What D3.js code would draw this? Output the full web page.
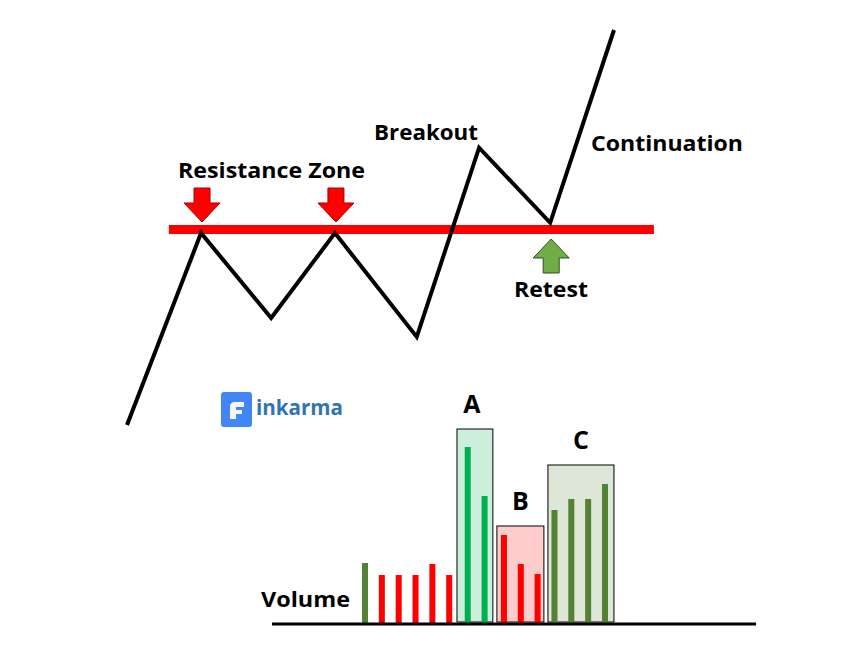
<!DOCTYPE html>
<html>
<head>
<meta charset="utf-8">
<title>Resistance breakout and retest</title>
<script src="https://cdn.jsdelivr.net/npm/d3@7/dist/d3.min.js"></script>
<style>
  body { margin: 0; background: #fff; }
  text { font-family: "Open Sans", "DejaVu Sans", sans-serif; font-weight: 700; }
</style>
</head>
<body>
<svg width="849" height="655"></svg>
<script>
// price path (time 0..100, price 0..100)
var priceTime = [0, 15.2, 29.6, 42.7, 59.5, 72.3, 86.9, 100];
var priceValue = [0, 48.6, 27.1, 48.6, 22.3, 70.2, 51.2, 100];
var resistance = 49.5;
var resistanceSpan = [8.6, 108.2];

// volume bars
var barSlot = [0, 1, 2, 3, 4, 5, 6.1, 7.1, 8.25, 9.25, 10.25, 11.25, 12.25, 13.25, 14.25];
var barVolume = [60, 48, 48, 48, 59, 48, 176, 127, 88, 59, 49, 113, 124, 124, 139];
var barKind = ["olive", "red", "red", "red", "red", "red", "green", "green", "red", "red", "red", "olive", "olive", "olive", "olive"];

// highlight boxes over the volume
var boxName = ["A", "B", "C"];
var boxFrom = [5.64, 8.01, 11.04];
var boxTo = [7.77, 10.8, 14.96];
var boxTop = [194, 97, 158];
var boxKind = ["green", "red", "olive"];

var colors = {olive: "#548235", red: "#ff0000", green: "#00b050"};

var svg = d3.select("svg");

var x = d3.scaleLinear().domain([0, 100]).range([127, 614]);
var y = d3.scaleLinear().domain([0, 100]).range([425, 30]);

// resistance line
svg.append("line")
  .attr("x1", x(resistanceSpan[0])).attr("x2", x(resistanceSpan[1]))
  .attr("y1", y(resistance)).attr("y2", y(resistance))
  .attr("stroke", "#ff0000").attr("stroke-width", 9);

// price line
var pts = d3.zip(priceTime, priceValue);
svg.append("path")
  .attr("d", d3.line().x(function(d){ return x(d[0]); }).y(function(d){ return y(d[1]); })(pts))
  .attr("fill", "none").attr("stroke", "#000").attr("stroke-width", 4)
  .attr("stroke-linejoin", "miter");

// arrows (down over the two touches, up under the retest)
function arrowPath(cx, tipY, dir) {
  // dir 1 = pointing down, -1 = pointing up
  var hw = 18, sw = 8, hh = 19, sh = 15;
  var b = tipY - dir * hh, t = b - dir * sh;
  return "M" + cx + "," + tipY + "L" + (cx - hw) + "," + b + "L" + (cx - sw) + "," + b +
    "L" + (cx - sw) + "," + t + "L" + (cx + sw) + "," + t + "L" + (cx + sw) + "," + b +
    "L" + (cx + hw) + "," + b + "Z";
}
[1, 3].forEach(function(i) {
  svg.append("path")
    .attr("d", arrowPath(x(priceTime[i]) + 1, 222, 1))
    .attr("fill", "#ff0000").attr("stroke", "#a50000").attr("stroke-width", 1);
});
svg.append("path")
  .attr("d", arrowPath(x(priceTime[6]) + 1, 239, -1))
  .attr("fill", "#70ad47").attr("stroke", "#2f4f1f").attr("stroke-width", 1);

// labels
function label(txt, px, py, w, anchor) {
  svg.append("text").attr("x", px).attr("y", py)
    .attr("text-anchor", anchor || "start")
    .attr("font-size", 21).attr("fill", "#000")
    .attr("textLength", w).attr("lengthAdjust", "spacingAndGlyphs")
    .text(txt);
}
label("Resistance Zone", 178, 178, 187);
label("Breakout", 374, 140, 104);
label("Continuation", 591, 151, 152);
label("Retest", 551, 297, 74, "middle");
label("Volume", 261, 607, 89);

// logo
var logo = svg.append("g").attr("transform", "translate(221,392)");
logo.append("rect").attr("width", 31).attr("height", 35).attr("rx", 3).attr("fill", "#4285f4");
logo.append("path")
  .attr("d", "M9,27 L9,15 Q9,10 14,10 L23,10 L23,15 L15,15 L15,18 L21,18 L21,22 L15,22 L15,27 Z")
  .attr("fill", "#f4f6fb");
svg.append("text").attr("x", 256).attr("y", 415)
  .attr("font-size", 21).attr("fill", "#2e75b6")
  .attr("textLength", 87).attr("lengthAdjust", "spacingAndGlyphs")
  .text("inkarma");

// volume
var vx = d3.scaleLinear().domain([0, 14.25]).range([365, 605]);
var vy = d3.scaleLinear().domain([0, 200]).range([623, 423]);
var barW = 6;

var boxes = svg.append("g");
boxName.forEach(function(n, i) {
  boxes.append("rect")
    .attr("x", vx(boxFrom[i]) - barW / 2).attr("y", vy(boxTop[i]))
    .attr("width", vx(boxTo[i]) - vx(boxFrom[i]))
    .attr("height", vy(0) - vy(boxTop[i]) - 1)
    .attr("fill", colors[boxKind[i]]).attr("fill-opacity", 0.2)
    .attr("stroke", "#000").attr("stroke-width", 1);
  boxes.append("text")
    .attr("x", (vx(boxFrom[i]) + vx(boxTo[i])) / 2 - barW / 2 - (i === 0 ? 3 : 0))
    .attr("y", vy(boxTop[i]) - 16)
    .attr("text-anchor", "middle").attr("font-size", 25).attr("fill", "#000")
    .text(n);
});

svg.append("g").selectAll("rect")
  .data(barSlot)
  .enter().append("rect")
  .attr("x", function(d){ return vx(d) - barW / 2; })
  .attr("y", function(d, i){ return vy(barVolume[i]); })
  .attr("width", barW)
  .attr("height", function(d, i){ return vy(0) - vy(barVolume[i]); })
  .attr("fill", function(d, i){ return colors[barKind[i]]; });

svg.append("line")
  .attr("x1", 272).attr("x2", 756).attr("y1", vy(0) + 1).attr("y2", vy(0) + 1)
  .attr("stroke", "#000").attr("stroke-width", 3);
</script>
</body>
</html>
